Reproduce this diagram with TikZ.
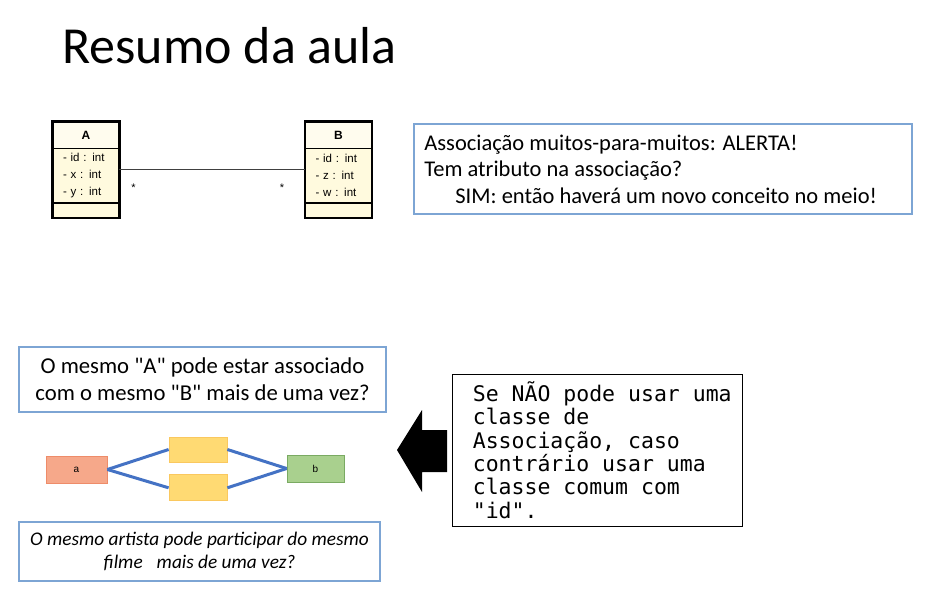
\documentclass[tikz,border=0pt]{standalone}
\usepackage{fontspec}
\setmainfont{Carlito}[Ligatures=TeXOff]
\newfontfamily\umlfont{Liberation Sans}
\newfontfamily\notefont{DejaVu Sans Mono}
\usetikzlibrary{positioning}

\definecolor{boxblue}{RGB}{125,165,212}
\definecolor{linkblue}{RGB}{68,114,196}
\definecolor{umlfill}{RGB}{255,250,222}
\definecolor{afill}{RGB}{246,168,138}
\definecolor{aline}{RGB}{238,140,105}
\definecolor{midfill}{RGB}{255,218,115}
\definecolor{midline}{RGB}{250,200,95}
\definecolor{bfill}{RGB}{169,208,142}
\definecolor{bline}{RGB}{122,170,98}

\begin{document}
\begin{tikzpicture}[x=1pt, y=-1pt, node distance=0pt,
  class head/.style={draw, line width=0.8pt, fill=umlfill!50, minimum width=66pt, minimum height=26pt, inner sep=0pt, font=\umlfont\bfseries\fontsize{12}{14}\selectfont},
  class attr/.style={draw, line width=0.8pt, fill=umlfill, minimum width=66pt, minimum height=54pt, inner sep=0pt, text width=46pt, align=left, font=\umlfont\fontsize{11.5}{17}\selectfont},
  class foot/.style={draw, line width=0.8pt, fill=umlfill, minimum width=66pt, minimum height=14pt, inner sep=0pt},
  mult/.style={inner sep=1pt, font=\umlfont\fontsize{11}{13}\selectfont},
  question/.style={draw=boxblue, line width=1.6pt, fill=white, align=center},
  item box/.style={draw, line width=0.8pt, minimum height=26pt, inner sep=0pt, font=\umlfont\fontsize{10}{12}\selectfont},
  link/.style={color=linkblue, line width=3pt}]

  \fill[white] (0,0) rectangle (931,601);
  \useasboundingbox (0,0) rectangle (931,601);

  % Title
  \node[anchor=base west, inner sep=0pt, font=\fontsize{52}{62}\selectfont] (title) at (62,64) {Resumo da aula};

  % Classes A and B
  \node[class head] (Ahead) at (86,135) {A};
  \node[class attr] (Aattr) [below=of Ahead] {- id : int\\- x : int\\- y : int};
  \node[class foot] (Afoot) [below=of Aattr] {};
  \draw[line width=2.6pt] (Ahead.north west) rectangle (Afoot.south east);

  \node[class head] (Bhead) at (338.5,135) {B};
  \node[class attr] (Battr) [below=of Bhead] {- id : int\\- z : int\\- w : int};
  \node[class foot] (Bfoot) [below=of Battr] {};
  \draw[line width=2.6pt] (Bhead.north west) rectangle (Bfoot.south east);

  % Association with multiplicities
  \draw[line width=0.8pt, black!75] ([yshift=6pt]Aattr.east) -- ([yshift=6pt]Battr.west);
  \node[mult] (multA) at ([xshift=14pt,yshift=-12pt]Aattr.east) {*};
  \node[mult] (multB) at ([xshift=-23pt,yshift=-12pt]Battr.west) {*};

  % Alert box
  \node[question, minimum width=498pt, minimum height=90pt] (alert) at (663,169) {};
  \node[anchor=west, align=left, inner sep=0pt, font=\fontsize{22.5}{26.5}\selectfont] (alerttext) at ([xshift=11pt]alert.west)
    {Associação muitos-para-muitos: ALERTA!\\
     Tem atributo na associação?\\
     \hspace*{31pt}SIM: então haverá um novo conceito no meio!};

  % Questions
  \node[question, minimum width=367pt, minimum height=65pt, font=\fontsize{22.7}{27}\selectfont] (q1) at (202.5,379.5)
    {O mesmo "A" pode estar associado\\com o mesmo "B" mais de uma vez?};
  \node[question, minimum width=361pt, minimum height=59pt, font=\itshape\fontsize{19.3}{23}\selectfont] (q2) at (199.5,551.5)
    {O mesmo artista pode participar do mesmo\\filme\enspace\ mais de uma vez?};

  % a -- two links -- b
  \node[item box, fill=afill, draw=aline, minimum width=61pt, minimum height=27pt] (a) at (76.5,469.5) {a};
  \node[item box, fill=midfill, draw=midline, minimum width=58pt, minimum height=25pt] (m1) at (198,449.5) {};
  \node[item box, fill=midfill, draw=midline, minimum width=58pt] (m2) [below=12pt of m1] {};
  \node[item box, fill=bfill, draw=bline, minimum width=57pt, minimum height=27pt] (b) at (315.5,468.5) {b};
  \path[link]
    (a.east) edge (m1.west)
             edge (m2.west)
    (b.west) edge (m1.east)
             edge (m2.east);

  % Note and arrow
  \node[draw, line width=0.8pt, minimum width=290pt, minimum height=152pt] (note) at (597,450) {};
  \node[anchor=west, align=left, inner sep=0pt, font=\notefont\fontsize{21.5}{23.3}\selectfont] (notetext) at ([xshift=21pt]note.west)
    {Se NÃO pode usar uma\\classe de\\Associação, caso\\contrário usar uma\\classe comum com\\"id".};
  \fill (397,450) -- (422,410) -- (422,430) -- (447,430) -- (447,472) -- (422,472) -- (422,492) -- cycle;
\end{tikzpicture}
\end{document}
